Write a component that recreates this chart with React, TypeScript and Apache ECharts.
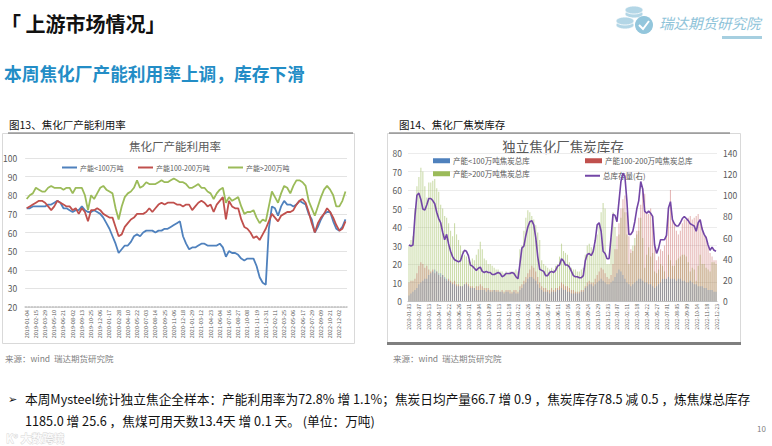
import { useEffect, useRef } from "react";
import * as echarts from "echarts";

const FONT = '"Noto Sans CJK SC", "Noto Sans", sans-serif';

// 图13：焦化厂产能利用率（双周取点）
const capLow = [
  73, 73, 74, 74, 74, 74, 74, 75, 75, 76,
  77, 76, 73, 73, 72, 71, 72, 72, 74, 72,
  71, 71, 72, 71, 70, 68, 65, 62, 58, 54,
  49, 51, 53, 53, 55, 58, 59, 58, 60, 61,
  61, 61, 60, 61, 61, 62, 62, 63, 64, 65,
  66, 58, 54, 51, 52, 52, 53, 54, 54, 53,
  53, 53, 53, 54, 52, 47, 50, 49, 49, 48,
  46, 45, 46, 46, 46, 42, 36, 33, 32, 62,
  74, 73, 69, 74, 77, 75, 75, 74, 75, 77,
  76, 75, 70, 67, 60, 63, 67, 70, 71, 71,
  66, 62, 61, 63, 67,
];
const capMid = [
  73, 74, 75, 76, 77, 77, 76, 74, 72, 74,
  77, 76, 75, 74, 74, 72, 73, 70, 73, 71,
  66, 72, 72, 73, 72, 70, 69, 68, 68, 63,
  58, 59, 63, 65, 67, 68, 70, 70, 70, 71,
  73, 71, 73, 75, 76, 75, 76, 76, 76, 75,
  75, 74, 75, 75, 72, 74, 76, 77, 76, 74,
  75, 71, 75, 77, 79, 67, 77, 74, 73, 73,
  67, 63, 62, 60, 57, 58, 56, 59, 62, 66,
  70, 68, 66, 69, 70, 71, 71, 72, 75, 77,
  78, 76, 71, 65, 60, 65, 68, 70, 73, 71,
  68, 64, 61, 62, 66,
];
const capHigh = [
  78, 80, 81, 84, 83, 82, 82, 84, 85, 84,
  84, 84, 83, 84, 84, 81, 84, 84, 84, 80,
  72, 80, 78, 81, 84, 85, 83, 82, 81, 73,
  67, 74, 79, 81, 82, 84, 88, 84, 85, 87,
  86, 86, 86, 87, 88, 87, 87, 88, 89, 88,
  87, 87, 86, 84, 84, 85, 86, 84, 84, 82,
  81, 78, 81, 83, 84, 76, 79, 77, 78, 79,
  74, 70, 71, 71, 72, 68, 65, 67, 66, 74,
  82, 79, 76, 81, 85, 84, 81, 85, 88, 88,
  87, 85, 77, 73, 69, 74, 79, 83, 85, 83,
  80, 74, 74, 77, 82,
];

// 图14：独立焦化厂焦炭库存（周度）
const stockLow = [
  3, 4, 5, 6, 7, 9, 10, 11, 12, 12,
  14, 15, 16, 17, 16, 15, 15, 14, 13, 12,
  11, 10, 9, 9, 8, 8, 8, 8, 9, 9,
  8, 7, 7, 7, 6, 6, 6, 6, 6, 5,
  6, 5, 5, 6, 5, 5, 5, 5, 4, 5,
  5, 4, 4, 5, 4, 4, 6, 7, 9, 10,
  12, 13, 13, 12, 11, 9, 7, 6, 5, 5,
  5, 4, 5, 5, 5, 6, 6, 7, 6, 6,
  5, 5, 4, 4, 4, 4, 4, 5, 5, 7,
  8, 9, 9, 8, 9, 10, 11, 12, 11, 10,
  9, 9, 10, 11, 13, 15, 17, 16, 14, 12,
  10, 9, 8, 9, 10, 11, 12, 12, 11, 10,
  10, 9, 9, 8, 7, 8, 9, 10, 12, 12,
  12, 13, 12, 12, 12, 11, 12, 12, 11, 11,
  10, 10, 11, 10, 9, 9, 8, 8, 8, 7,
  7, 6, 6, 6, 5, 5,
];
const stockMid = [
  10, 11, 11, 12, 15, 19, 21, 20, 18, 19,
  17, 16, 17, 15, 16, 14, 13, 14, 12, 11,
  12, 11, 10, 11, 9, 9, 8, 8, 9, 10,
  9, 8, 8, 7, 8, 8, 9, 8, 7, 7,
  7, 6, 6, 6, 6, 6, 5, 6, 5, 6,
  6, 6, 5, 6, 6, 5, 8, 9, 11, 13,
  15, 17, 19, 18, 16, 13, 10, 8, 7, 7,
  6, 6, 7, 6, 7, 7, 8, 10, 9, 8,
  8, 7, 6, 6, 5, 5, 5, 6, 6, 8,
  10, 11, 10, 10, 12, 14, 16, 18, 17, 15,
  13, 12, 14, 20, 28, 35, 42, 50, 55, 57,
  48, 35, 28, 27, 30, 38, 45, 52, 61, 58,
  48, 47, 50, 46, 30, 22, 24, 28, 27, 30,
  38, 50, 60, 46, 42, 38, 36, 38, 42, 44,
  44, 45, 46, 44, 45, 46, 47, 44, 40, 36,
  35, 30, 26, 24, 22, 22,
];
const stockHigh = [
  30, 33, 35, 50, 62, 67, 72, 70, 62, 56,
  64, 64, 65, 66, 61, 59, 52, 50, 46, 45,
  42, 38, 35, 42, 36, 33, 30, 27, 25, 24,
  22, 21, 23, 22, 25, 28, 32, 28, 23, 22,
  20, 20, 19, 18, 17, 17, 16, 16, 15, 16,
  15, 16, 15, 16, 17, 16, 28, 30, 38, 45,
  49, 48, 46, 44, 41, 37, 33, 22, 20, 19,
  18, 17, 18, 17, 19, 20, 24, 31, 27, 26,
  25, 21, 18, 17, 17, 16, 16, 17, 18, 25,
  30, 31, 29, 28, 30, 36, 42, 48, 53, 50,
  20, 20, 34, 48, 40, 28, 36, 45, 50, 48,
  36, 20, 26, 30, 34, 36, 38, 45, 34, 18,
  25, 29, 24, 26, 16, 15, 17, 20, 19, 16,
  12, 25, 22, 19, 19, 22, 23, 24, 25, 25,
  24, 21, 16, 18, 17, 11, 19, 25, 20, 20,
  18, 17, 16, 21, 21, 20,
];
const stockTotal = [
  53, 52, 53, 80, 100, 102, 96, 87, 86, 91,
  97, 97, 95, 92, 84, 78, 74, 65, 58, 63,
  54, 47, 42, 39, 38, 37, 38, 44, 48, 47,
  43, 34, 33, 31, 29, 31, 32, 28, 27, 28,
  27, 27, 25, 25, 26, 27, 26, 23, 24, 26,
  26, 26, 27, 26, 23, 21, 35, 50, 52, 62,
  70, 75, 76, 72, 60, 42, 30, 29, 28, 24,
  24, 27, 28, 27, 29, 33, 34, 40, 38, 34,
  34, 32, 28, 24, 23, 23, 22, 22, 24, 38,
  44, 45, 43, 47, 57, 72, 74, 66, 47, 45,
  40, 40, 60, 82, 81, 75, 94, 113, 121, 118,
  95, 63, 63, 66, 75, 87, 95, 113, 106, 85,
  83, 85, 83, 80, 53, 45, 50, 58, 58, 58,
  62, 88, 94, 77, 73, 71, 71, 74, 78, 80,
  78, 76, 73, 72, 71, 66, 74, 77, 68, 63,
  60, 53, 48, 51, 48, 47,
];

const makeDates = (start: string, count: number, stepDays: number) =>
  Array.from({ length: count }, (_, i) =>
    new Date(Date.parse(start) + i * stepDays * 864e5).toISOString().slice(0, 10)
  );

const leftDates = makeDates("2019-01-04", capLow.length, 14);
const rightDates = makeDates("2020-01-03", stockTotal.length, 7);

const BLUE = "#4F81BD";
const RED = "#C0504D";
const GREEN = "#9BBB59";
const PURPLE = "#7346A6";
const AXIS_TXT = "#595959";

const bulletLine1 =
  "本周Mysteel统计独立焦企全样本：产能利用率为72.8% 增 1.1%；焦炭日均产量66.7 增 0.9 ，焦炭库存78.5 减 0.5 ，炼焦煤总库存";
const bulletLine2 = "1185.0 增 25.6 ，焦煤可用天数13.4天 增 0.1 天。 (单位：万吨)";

const txt = (text: string, x: number, y: number, size: number, fill: string, extra: object = {}) => ({
  type: "text",
  x,
  y,
  style: { text, fill, fontSize: size, fontFamily: FONT, verticalAlign: "middle", ...extra },
});

const legendItem = (name: string, left: number, top: number, icon: string, w: number, h: number, color: string, size: number) => ({
  data: [{ name, itemStyle: { color, opacity: 1 } }],
  left,
  top,
  icon,
  itemWidth: w,
  itemHeight: h,
  itemGap: 0,
  padding: 0,
  selectedMode: false,
  textStyle: { fontSize: size, color: AXIS_TXT, fontFamily: FONT, padding: [0, 0, 0, -2] },
});

export default function App() {
  const ref = useRef<HTMLDivElement>(null);

  useEffect(() => {
    document.body.style.margin = "0";
    if (!ref.current) return;
    const chart = echarts.init(ref.current, undefined, { renderer: "svg" });

    chart.setOption({
      animation: false,
      backgroundColor: "#ffffff",
      textStyle: { fontFamily: FONT },
      grid: [
        { left: 25, right: 425, top: 158, bottom: 139 },
        { left: 408, right: 55, top: 153, bottom: 145 },
      ],
      xAxis: [
        {
          type: "category",
          gridIndex: 0,
          data: leftDates,
          axisLine: { lineStyle: { color: "#bfbfbf", type: "dotted", width: 1.5 } },
          axisTick: { show: false },
          axisLabel: { interval: 2, rotate: 90, fontSize: 5.5, color: AXIS_TXT, margin: 3 },
        },
        {
          type: "category",
          gridIndex: 1,
          data: rightDates,
          axisLine: { lineStyle: { color: "#bfbfbf" } },
          axisTick: { show: false },
          axisLabel: { interval: 4, rotate: 90, fontSize: 5, color: AXIS_TXT, margin: 3 },
        },
      ],
      yAxis: [
        {
          type: "value",
          gridIndex: 0,
          min: 20,
          max: 100,
          interval: 10,
          axisLine: { show: false },
          axisTick: { show: false },
          splitLine: { lineStyle: { color: "#e3e3e3" } },
          axisLabel: { fontSize: 8.5, color: AXIS_TXT, margin: 8 },
        },
        {
          type: "value",
          gridIndex: 1,
          min: 0,
          max: 80,
          interval: 10,
          axisLine: { show: false },
          axisTick: { show: false },
          splitLine: { lineStyle: { color: "#ececec" } },
          axisLabel: { fontSize: 8.5, color: AXIS_TXT, margin: 6 },
        },
        {
          type: "value",
          gridIndex: 1,
          position: "right",
          min: 0,
          max: 140,
          interval: 20,
          axisLine: { show: false },
          axisTick: { show: false },
          splitLine: { show: false },
          axisLabel: { fontSize: 8.5, color: AXIS_TXT, margin: 6 },
        },
      ],
      legend: [
        legendItem("产能<100万吨", 62, 164, "rect", 15, 2, BLUE, 7),
        legendItem("产能100-200万吨", 138, 164, "rect", 15, 2, RED, 7),
        legendItem("产能>200万吨", 228, 164, "rect", 15, 2, GREEN, 7),
        legendItem("产能<100万吨焦炭总库", 433, 157, "rect", 17, 5, BLUE, 7.5),
        legendItem("产能100-200万吨焦炭总库", 585, 157, "rect", 17, 5, RED, 7.5),
        legendItem("产能>200万吨焦炭总库", 433, 170, "rect", 17, 5, GREEN, 7.5),
        legendItem("总库存量(右)", 585, 172, "rect", 15, 2, PURPLE, 7.5),
      ],
      series: [
        { name: "产能<100万吨", type: "line", xAxisIndex: 0, yAxisIndex: 0, data: capLow, showSymbol: false, color: BLUE, lineStyle: { width: 1.8 } },
        { name: "产能100-200万吨", type: "line", xAxisIndex: 0, yAxisIndex: 0, data: capMid, showSymbol: false, color: RED, lineStyle: { width: 1.8 } },
        { name: "产能>200万吨", type: "line", xAxisIndex: 0, yAxisIndex: 0, data: capHigh, showSymbol: false, color: GREEN, lineStyle: { width: 1.8 } },
        {
          name: "产能>200万吨焦炭总库", type: "bar", xAxisIndex: 1, yAxisIndex: 1, data: stockHigh,
          barWidth: "55%", barGap: "-100%", color: GREEN, itemStyle: { opacity: 0.5 },
        },
        {
          name: "产能100-200万吨焦炭总库", type: "bar", xAxisIndex: 1, yAxisIndex: 1, data: stockMid,
          barWidth: "55%", barGap: "-100%", color: RED, itemStyle: { opacity: 0.4 },
        },
        {
          name: "产能<100万吨焦炭总库", type: "bar", xAxisIndex: 1, yAxisIndex: 1, data: stockLow,
          barWidth: "55%", barGap: "-100%", color: BLUE, itemStyle: { opacity: 0.4 },
        },
        {
          name: "总库存量(右)", type: "line", xAxisIndex: 1, yAxisIndex: 2, data: stockTotal,
          showSymbol: false, color: PURPLE, lineStyle: { width: 1.6 }, z: 5,
        },
      ],
      graphic: [
        // 标题区
        txt("「 上游市场情况」", 1, 23, 20, "#111111", { fontWeight: "bold" }),
        txt("本周焦化厂产能利用率上调，库存下滑", 4, 73, 17.7, "#238DC6", { fontWeight: "bold" }),
        // logo
        { type: "ellipse", shape: { cx: 634, cy: 14, rx: 9, ry: 4 }, style: { fill: "#b3d6e6", stroke: "#fff", lineWidth: 0.8 } },
        { type: "ellipse", shape: { cx: 634, cy: 10, rx: 9, ry: 4 }, style: { fill: "#b3d6e6", stroke: "#fff", lineWidth: 0.8 } },
        { type: "ellipse", shape: { cx: 625, cy: 25, rx: 9, ry: 4 }, style: { fill: "#b3d6e6", stroke: "#fff", lineWidth: 0.8 } },
        { type: "ellipse", shape: { cx: 625, cy: 21, rx: 9, ry: 4 }, style: { fill: "#b3d6e6", stroke: "#fff", lineWidth: 0.8 } },
        { type: "circle", shape: { cx: 644, cy: 25, r: 9 }, style: { fill: "#93c6dc" } },
        { type: "polyline", shape: { points: [[639, 25], [643, 29], [649, 21]] }, style: { stroke: "#fff", lineWidth: 2, fill: "none" } },
        txt("瑞达期货研究院", 659, 22, 14.5, "#8EC3D9", { fontStyle: "italic" }),
        { type: "rect", shape: { x: 722, y: 36, width: 40, height: 3 }, style: { fill: "#a6cfe0" } },
        // 图框
        txt("图13、焦化厂产能利用率", 9, 124, 10.5, "#111111"),
        txt("图14、焦化厂焦炭库存", 399, 124, 10.5, "#111111"),
        { type: "rect", shape: { x: 2.5, y: 133.5, width: 352, height: 210 }, style: { fill: "none", stroke: "#d9d9d9", lineWidth: 1 } },
        { type: "line", shape: { x1: 8, y1: 133, x2: 353, y2: 133 }, style: { stroke: "#666666", lineWidth: 1 } },
        { type: "rect", shape: { x: 387.5, y: 133.5, width: 353, height: 209 }, style: { fill: "none", stroke: "#d9d9d9", lineWidth: 1 } },
        { type: "line", shape: { x1: 387, y1: 343.5, x2: 741, y2: 343.5 }, style: { stroke: "#7f7f7f", lineWidth: 3 } },
        { type: "line", shape: { x1: 389, y1: 133, x2: 730, y2: 133 }, style: { stroke: "#666666", lineWidth: 1 } },
        txt("焦化厂产能利用率", 175, 146, 11.5, AXIS_TXT, { align: "center" }),
        txt("独立焦化厂焦炭库存", 563, 146, 13.5, AXIS_TXT, { align: "center" }),
        // 来源
        txt("来源：wind  瑞达期货研究院", 5, 358, 8.5, "#7f7f7f"),
        txt("来源：wind  瑞达期货研究院", 393, 358, 8.5, "#7f7f7f"),
        // 正文
        txt("➢", 8, 398, 11, "#111111"),
        txt(bulletLine1, 25, 398, 12.7, "#111111"),
        txt(bulletLine2, 25, 420, 12.7, "#111111"),
        txt("10", 757, 428, 8, "#7f7f7f"),
        txt("K° 大数跨境", 6, 438, 11, "rgba(255,255,255,0.85)", { stroke: "#d6d6d6", lineWidth: 0.8, fontWeight: "bold" }),
      ],
    });

    return () => chart.dispose();
  }, []);

  return <div ref={ref} style={{ width: 772, height: 446, background: "#fff" }} />;
}
